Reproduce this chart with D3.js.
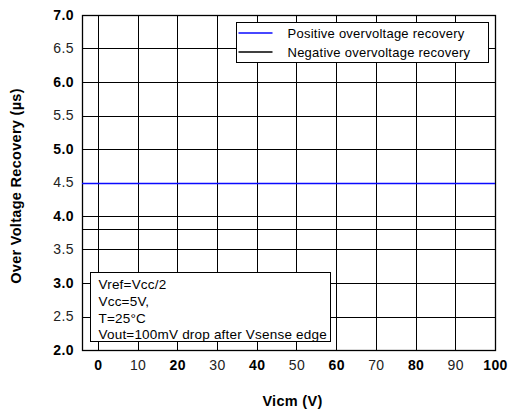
<!DOCTYPE html>
<meta charset="utf-8">
<html>
<head>
    <style>
        body {
            margin: 0;
            font-family: Arial, "Liberation Sans", Helvetica, sans-serif;
            background: #fff;
        }

        .grid line {
            stroke: #000;
            stroke-width: 1;
        }

        .tick text {
            font-size: 14px;
            font-family: Arial, "Liberation Sans", sans-serif;
            letter-spacing: 0.4px;
        }

        .tick text.major {
            font-weight: bold;
            fill: #000;
        }

        .tick text.minor {
            fill: #222;
        }

        .title {
            font-weight: bold;
            font-size: 14.5px;
            letter-spacing: 0.3px;
        }
    </style>
</head>
<body>
    <div id="chart"></div>
    <script src="https://cdn.jsdelivr.net/npm/d3@7"></script>
    <script>
        // data
        var vicm = [-4, 0, 10, 20, 30, 40, 50, 60, 70, 80, 90, 100];
        var positiveRecovery = [4.5, 4.5, 4.5, 4.5, 4.5, 4.5, 4.5, 4.5, 4.5, 4.5, 4.5, 4.5];
        var negativeRecovery = [3.8, 3.8, 3.8, 3.8, 3.8, 3.8, 3.8, 3.8, 3.8, 3.8, 3.8, 3.8];
        var xTicks = [0, 10, 20, 30, 40, 50, 60, 70, 80, 90, 100];
        var yTicks = [2.0, 2.5, 3.0, 3.5, 4.0, 4.5, 5.0, 5.5, 6.0, 6.5, 7.0];
        var seriesNames = ["Positive overvoltage recovery", "Negative overvoltage recovery"];
        var seriesColors = ["#0a0aff", "#000000"];
        var notes = ["Vref=Vcc/2", "Vcc=5V,", "T=25\u00b0C", "Vout=100mV drop after Vsense edge"];

        var width = 508, height = 415;
        var margin = { top: 15, right: 13, bottom: 65, left: 82 };

        var svg = d3.select("#chart").append("svg")
            .attr("width", width)
            .attr("height", height);

        var x = d3.scaleLinear()
            .domain([-4, 100])
            .range([margin.left, width - margin.right]);

        var y = d3.scaleLinear()
            .domain([2, 7])
            .range([height - margin.bottom, margin.top]);

        // grid
        var grid = svg.append("g").attr("class", "grid");
        grid.selectAll(".v").data(xTicks).enter().append("line")
            .attr("x1", function (d) { return Math.round(x(d)) + 0.5; })
            .attr("x2", function (d) { return Math.round(x(d)) + 0.5; })
            .attr("y1", y(7)).attr("y2", y(2));
        grid.selectAll(".h").data(yTicks).enter().append("line")
            .attr("x1", x(-4)).attr("x2", x(100))
            .attr("y1", function (d) { return Math.round(y(d)) + 0.5; })
            .attr("y2", function (d) { return Math.round(y(d)) + 0.5; });

        // frame
        svg.append("rect")
            .attr("x", Math.round(x(-4)) + 0.5)
            .attr("y", Math.round(y(7)) + 0.5)
            .attr("width", Math.round(x(100)) - Math.round(x(-4)))
            .attr("height", Math.round(y(2)) - Math.round(y(7)))
            .attr("fill", "none")
            .attr("stroke", "#000")
            .attr("stroke-width", 1.3);

        // axes (labels only)
        var xAxis = svg.append("g")
            .attr("transform", "translate(0," + y(2) + ")")
            .call(d3.axisBottom(x).tickValues(xTicks).tickSize(0).tickPadding(10).tickFormat(d3.format("d")));
        xAxis.select(".domain").remove();
        xAxis.selectAll("text")
            .attr("class", function (d) { return d % 20 === 0 ? "major" : "minor"; });

        var yAxis = svg.append("g")
            .attr("transform", "translate(" + x(-4) + ",0)")
            .call(d3.axisLeft(y).tickValues(yTicks).tickSize(0).tickPadding(8).tickFormat(d3.format(".1f")));
        yAxis.select(".domain").remove();
        yAxis.selectAll("text")
            .attr("class", function (d) { return Math.abs(d % 1) < 0.01 ? "major" : "minor"; });

        // series
        var line = d3.line()
            .x(function (d) { return x(d[0]); })
            .y(function (d) { return Math.round(y(d[1])) + 0.5; });

        [positiveRecovery, negativeRecovery].forEach(function (s, i) {
            svg.append("path")
                .datum(vicm.map(function (v, j) { return [v, s[j]]; }))
                .attr("fill", "none")
                .attr("stroke", seriesColors[i])
                .attr("stroke-width", i === 0 ? 1.5 : 1.2)
                .attr("d", line);
        });

        // legend
        var legend = svg.append("g").attr("transform", "translate(236.5,22.5)");
        legend.append("rect")
            .attr("width", 252).attr("height", 40)
            .attr("fill", "#fff").attr("stroke", "#000");
        seriesNames.forEach(function (name, i) {
            legend.append("line")
                .attr("x1", 2).attr("x2", 36)
                .attr("y1", 10.5 + i * 19).attr("y2", 10.5 + i * 19)
                .attr("stroke", seriesColors[i]).attr("stroke-width", 1.5);
            legend.append("text")
                .attr("x", 51).attr("y", 11 + i * 19).attr("dy", "0.35em")
                .style("font-size", "13px")
                .style("letter-spacing", "0.25px")
                .text(name);
        });

        // note box
        var note = svg.append("g").attr("transform", "translate(90.5,272.5)");
        note.append("rect")
            .attr("width", 240).attr("height", 69)
            .attr("fill", "#fff").attr("stroke", "#000");
        notes.forEach(function (t, i) {
            note.append("text")
                .attr("x", 8).attr("y", 12 + i * 16.7).attr("dy", "0.35em")
                .style("font-size", "13.5px")
                .style("letter-spacing", "0.2px")
                .text(t);
        });

        // axis titles
        svg.append("text")
            .attr("class", "title")
            .attr("x", x(49)).attr("y", 401)
            .attr("text-anchor", "middle").attr("dy", "0.35em")
            .text("Vicm (V)");

        svg.append("text")
            .attr("class", "title")
            .attr("transform", "translate(16,186) rotate(-90)")
            .attr("text-anchor", "middle").attr("dy", "0.35em")
            .text("Over Voltage Recovery (\u00b5s)");
    </script>
</body>
</html>
